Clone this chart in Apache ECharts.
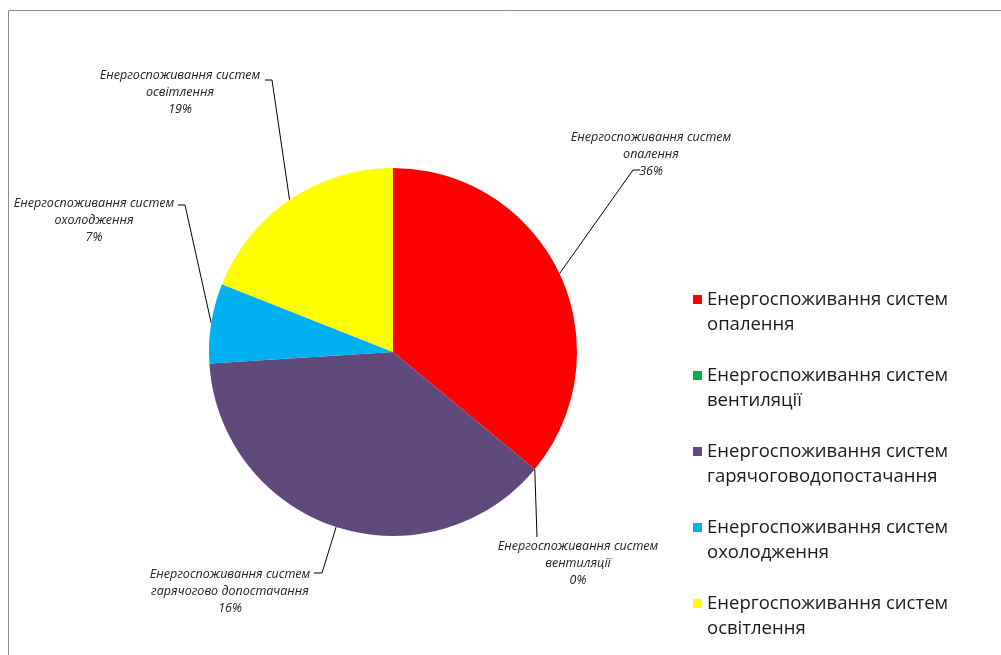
<!DOCTYPE html>
<html>
<head>
<meta charset="utf-8">
<script src="https://cdn.jsdelivr.net/npm/echarts@6/dist/echarts.min.js"></script>
<style>html,body{margin:0;padding:0;background:#fff}#c{width:1001px;height:655px}</style>
</head>
<body>
<div id="c"></div>
<script>
// Data
const legendNames = [
  'Енергоспоживання систем\nопалення',
  'Енергоспоживання систем\nвентиляції',
  'Енергоспоживання систем\nгарячоговодопостачання',
  'Енергоспоживання систем\nохолодження',
  'Енергоспоживання систем\nосвітлення'
];
const labelNames = [
  'Енергоспоживання систем\nопалення',
  'Енергоспоживання систем\nвентиляції',
  'Енергоспоживання систем\nгарячогово допостачання',
  'Енергоспоживання систем\nохолодження',
  'Енергоспоживання систем\nосвітлення'
];
const values = [36, 0, 38, 7, 19];
const labelPercents = ['36%', '0%', '16%', '7%', '19%'];
const colors = ['#FF0000', '#00B050', '#604A7B', '#00B0F0', '#FFFF00'];

// label layout (text positions and leader elbows)
const labelPos = [
  {x: 651, y: 129, elbow: [633, 170], end: [640, 170]},
  {x: 578, y: 538, elbow: [537, 537], end: [537, 537]},
  {x: 230, y: 566, elbow: [322, 573], end: [314, 573]},
  {x: 94,  y: 195, elbow: [185, 205], end: [178, 205]},
  {x: 180, y: 67,  elbow: [272, 80],  end: [265, 80]}
];

const chart = echarts.init(document.getElementById('c'));
chart.setOption({
  animation: false,
  graphic: [
    {type: 'line', shape: {x1: 8.5, y1: 10.5, x2: 1001, y2: 10.5}, style: {stroke: '#8a8a8a', lineWidth: 1}},
    {type: 'line', shape: {x1: 8.5, y1: 10.5, x2: 8.5, y2: 655}, style: {stroke: '#8a8a8a', lineWidth: 1}}
  ],
  legend: {
    orient: 'vertical',
    left: 688,
    top: 257,
    height: 390,
    icon: 'rect',
    itemWidth: 9,
    itemHeight: 9,
    itemGap: 1,
    data: legendNames,
    formatter: function (n) { return '\n' + n; },
    textStyle: {
      fontFamily: 'Open Sans',
      fontSize: 18.5,
      color: '#1a1a1a',
      lineHeight: 25
    }
  },
  series: [{
    type: 'pie',
    center: [393, 352],
    radius: 184,
    startAngle: 90,
    clockwise: true,
    avoidLabelOverlap: false,
    data: values.map((v, i) => ({
      name: legendNames[i],
      value: v,
      itemStyle: {color: colors[i]},
      label: {formatter: labelNames[i] + '\n' + labelPercents[i]}
    })),
    label: {
      show: true,
      fontFamily: 'Open Sans',
      fontStyle: 'italic',
      fontSize: 12.5,
      lineHeight: 17,
      color: '#222',
      align: 'center'
    },
    labelLine: {show: true, lineStyle: {color: '#000', width: 1}},
    labelLayout: function (p) {
      const lp = labelPos[p.dataIndex];
      const start = p.labelLinePoints ? p.labelLinePoints[0] : lp.elbow;
      return {
        x: lp.x,
        y: lp.y,
        align: 'center',
        verticalAlign: 'top',
        labelLinePoints: [start, lp.elbow, lp.end]
      };
    }
  }]
});
</script>
</body>
</html>
